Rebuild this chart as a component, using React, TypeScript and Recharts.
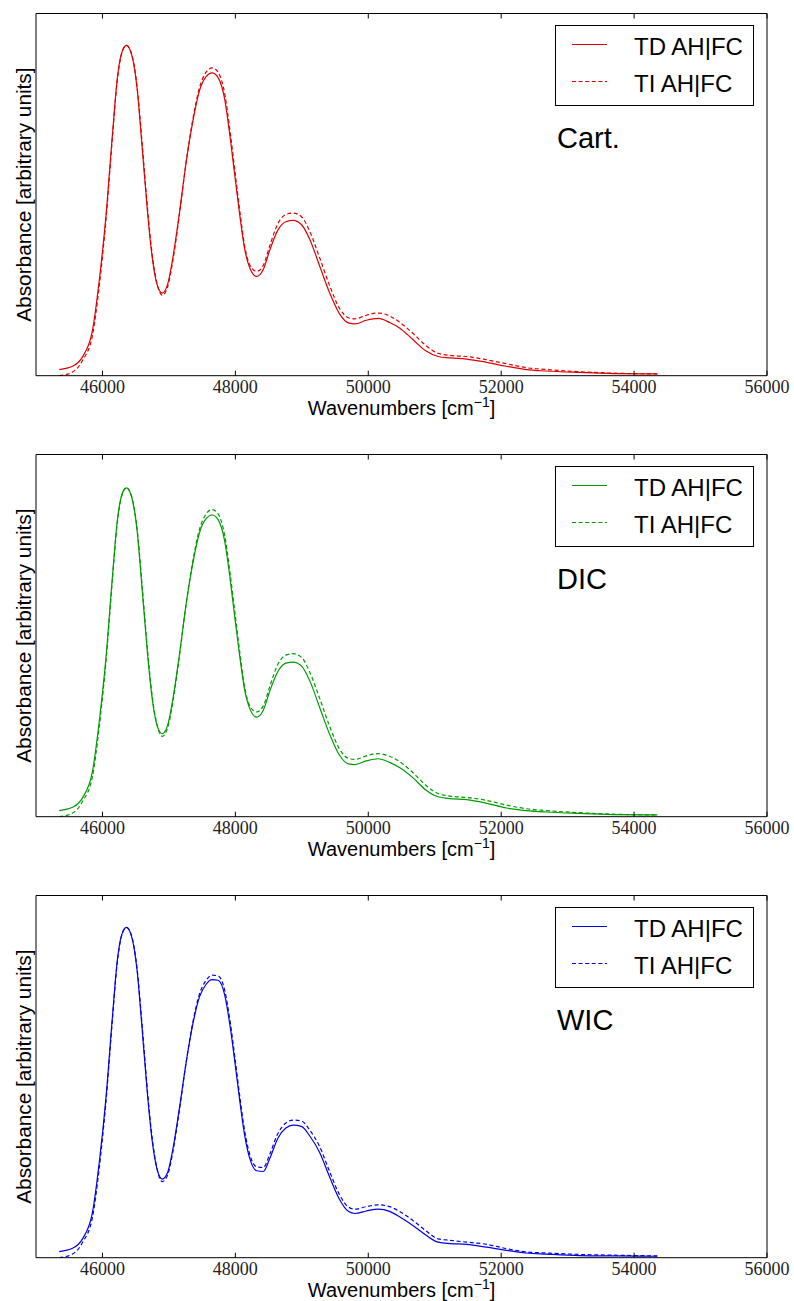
import React from 'react';
import { LineChart, Line, XAxis, YAxis, Legend } from 'recharts';

const WAVENUMBERS = [
  45350, 45550, 45700, 45850, 45950, 46050, 46150, 46220, 46290, 46360,
  46440, 46520, 46600, 46680, 46750, 46820, 46900, 46980, 47060, 47160,
  47260, 47360, 47460, 47560, 47650, 47740, 47840, 47920, 48000, 48070,
  48140, 48220, 48320, 48420, 48520, 48640, 48760, 48870, 49000, 49120,
  49270, 49420, 49570, 49700, 49800, 49970, 50150, 50320, 50470, 50670,
  50870, 51050, 51230, 51480, 51780, 52080, 52380, 52680, 53180, 53680,
  54350,
];

const CART_TD = [
  0.017, 0.026, 0.052, 0.125, 0.26, 0.435, 0.665, 0.815, 0.892, 0.912,
  0.886, 0.795, 0.625, 0.448, 0.325, 0.253, 0.228, 0.252, 0.326, 0.452,
  0.59, 0.702, 0.787, 0.826, 0.836, 0.823, 0.763, 0.66, 0.54, 0.438,
  0.35, 0.296, 0.274, 0.293, 0.348, 0.402, 0.425, 0.429, 0.416, 0.376,
  0.302, 0.228, 0.17, 0.146, 0.143, 0.153, 0.158, 0.147, 0.132, 0.1,
  0.068, 0.053, 0.049, 0.046, 0.037, 0.026, 0.017, 0.013, 0.009, 0.006,
  0.005,
];
const CART_TI = [
  0.0, 0.01, 0.042, 0.112, 0.245, 0.425, 0.658, 0.81, 0.89, 0.912,
  0.888, 0.8, 0.635, 0.458, 0.332, 0.255, 0.222, 0.245, 0.318, 0.447,
  0.59, 0.708, 0.795, 0.838, 0.85, 0.838, 0.778, 0.675, 0.555, 0.45,
  0.358, 0.305, 0.288, 0.305, 0.36, 0.42, 0.445, 0.449, 0.438, 0.398,
  0.325, 0.248, 0.185, 0.16, 0.157, 0.167, 0.173, 0.165, 0.148, 0.117,
  0.083, 0.062, 0.056, 0.053, 0.044, 0.033, 0.022, 0.017, 0.011, 0.007,
  0.005,
];

const DIC_TD = [
  0.017, 0.026, 0.052, 0.125, 0.26, 0.433, 0.662, 0.811, 0.888, 0.908,
  0.882, 0.792, 0.622, 0.446, 0.324, 0.253, 0.229, 0.252, 0.325, 0.45,
  0.588, 0.7, 0.784, 0.823, 0.833, 0.82, 0.76, 0.658, 0.538, 0.437,
  0.35, 0.297, 0.275, 0.294, 0.348, 0.401, 0.424, 0.427, 0.415, 0.375,
  0.301, 0.227, 0.169, 0.146, 0.144, 0.154, 0.16, 0.15, 0.136, 0.108,
  0.073, 0.055, 0.05, 0.047, 0.037, 0.024, 0.017, 0.013, 0.009, 0.006,
  0.005,
];
const DIC_TI = [
  0.0, 0.01, 0.042, 0.112, 0.245, 0.423, 0.655, 0.806, 0.886, 0.908,
  0.884, 0.797, 0.632, 0.456, 0.331, 0.255, 0.222, 0.245, 0.317, 0.446,
  0.588, 0.706, 0.793, 0.836, 0.848, 0.836, 0.776, 0.673, 0.553, 0.449,
  0.358, 0.305, 0.289, 0.306, 0.361, 0.421, 0.446, 0.45, 0.439, 0.399,
  0.326, 0.249, 0.186, 0.161, 0.158, 0.168, 0.174, 0.167, 0.152, 0.122,
  0.086, 0.064, 0.057, 0.053, 0.045, 0.032, 0.022, 0.017, 0.011, 0.007,
  0.005,
];

const WIC_TD = [
  0.017, 0.026, 0.052, 0.125, 0.26, 0.435, 0.665, 0.815, 0.892, 0.912,
  0.886, 0.795, 0.625, 0.445, 0.32, 0.245, 0.217, 0.235, 0.3, 0.415,
  0.54, 0.645, 0.72, 0.755, 0.768, 0.766, 0.725, 0.64, 0.53, 0.428,
  0.338, 0.272, 0.24, 0.238, 0.275, 0.33, 0.358, 0.366, 0.362, 0.336,
  0.29, 0.222, 0.16, 0.128, 0.122, 0.129, 0.134, 0.128, 0.113, 0.089,
  0.062, 0.043, 0.039, 0.037, 0.029, 0.02, 0.013, 0.01, 0.006, 0.005,
  0.004,
];
const WIC_TI = [
  0.0, 0.01, 0.042, 0.112, 0.245, 0.425, 0.658, 0.81, 0.89, 0.912,
  0.888, 0.8, 0.635, 0.455, 0.328, 0.247, 0.21, 0.228, 0.293, 0.41,
  0.54, 0.65, 0.728, 0.766, 0.78, 0.778, 0.738, 0.653, 0.543, 0.44,
  0.35, 0.283, 0.251, 0.249, 0.287, 0.343, 0.372, 0.38, 0.377, 0.352,
  0.306, 0.237, 0.173, 0.14, 0.134, 0.141, 0.146, 0.141, 0.128, 0.103,
  0.074, 0.052, 0.048, 0.043, 0.037, 0.025, 0.016, 0.013, 0.009, 0.007,
  0.005,
];

const X_TICKS = [46000, 48000, 50000, 52000, 54000, 56000];
const X_DOMAIN = [45000, 56000];
const SERIES_NAMES = ['TD AH|FC', 'TI AH|FC'];
const PANEL_LABELS = ['Cart.', 'DIC', 'WIC'];
const PANEL_COLORS = ['#dd0000', '#009a00', '#0000e6'];
const PANEL_SERIES = [
  [CART_TD, CART_TI],
  [DIC_TD, DIC_TI],
  [WIC_TD, WIC_TI],
];

const PANEL_H = 441;
const SANS = "'Liberation Sans', Arial, sans-serif";
const SERIF = "'Liberation Serif', 'DejaVu Serif', serif";

function BottomTick(props: any) {
  const { x, y, payload } = props;
  return (
    <g>
      <line x1={x} x2={x} y1={y} y2={y - 5} stroke="#000" strokeWidth={1} />
      <text x={x} y={y + 17} textAnchor="middle" fontFamily={SERIF} fontSize={18} fill="#222">
        {payload.value}
      </text>
    </g>
  );
}

function TopTick(props: any) {
  const { x, y } = props;
  return <line x1={x} x2={x} y1={y} y2={y + 5} stroke="#000" strokeWidth={1} />;
}

function XLabel(props: any) {
  const vb = props.viewBox || {};
  const cx = vb.x + vb.width / 2;
  const by = vb.y + 39.5;
  return (
    <text x={cx} y={by} textAnchor="middle" fontFamily={SANS} fontSize={20} fill="#000">
      Wavenumbers [cm
      <tspan dy={-8} fontSize={14}>−1</tspan>
      <tspan dy={8}>]</tspan>
    </text>
  );
}

function YLabel(props: any) {
  const vb = props.viewBox || {};
  const cy = vb.y + vb.height / 2;
  const x = 31;
  return (
    <text
      x={x}
      y={cy}
      transform={`rotate(-90, ${x}, ${cy})`}
      textAnchor="middle"
      fontFamily={SANS}
      fontSize={20.8}
      fill="#000"
    >
      Absorbance [arbitrary units]
    </text>
  );
}

function LegendBox({ color }: { color: string }) {
  return (
    <div
      style={{
        width: 199,
        height: 81,
        boxSizing: 'border-box',
        border: '1px solid #000',
        background: '#fff',
      }}
    >
      <svg width={197} height={79} style={{ display: 'block' }}>
        <line x1={16} x2={51} y1={18.5} y2={18.5} stroke={color} strokeWidth={1.2} />
        <text x={78} y={28.5} fontFamily={SANS} fontSize={24} fill="#000">
          {SERIES_NAMES[0]}
        </text>
        <line x1={16} x2={51} y1={55.5} y2={55.5} stroke={color} strokeWidth={1.2} strokeDasharray="4 2.6" />
        <text x={78} y={65.5} fontFamily={SANS} fontSize={24} fill="#000">
          {SERIES_NAMES[1]}
        </text>
      </svg>
    </div>
  );
}

function Panel({ index }: { index: number }) {
  const [td, ti] = PANEL_SERIES[index];
  const color = PANEL_COLORS[index];
  const data = WAVENUMBERS.map((w, i) => ({ w, td: td[i], ti: ti[i] }));
  return (
    <div style={{ position: 'absolute', left: 0, top: index * PANEL_H, width: 794, height: PANEL_H }}>
      <LineChart
        width={794}
        height={PANEL_H}
        data={data}
        margin={{ top: 12.5, right: 26, bottom: 35.3, left: 35 }}
      >
        <XAxis
          xAxisId="bottom"
          dataKey="w"
          type="number"
          domain={X_DOMAIN}
          ticks={X_TICKS}
          allowDataOverflow
          height={30}
          tickSize={0}
          tickMargin={0}
          tickLine={false}
          tick={<BottomTick />}
          axisLine={{ stroke: '#000', strokeWidth: 1 }}
          interval={0}
          label={<XLabel />}
        />
        <XAxis
          xAxisId="top"
          orientation="top"
          dataKey="w"
          type="number"
          domain={X_DOMAIN}
          ticks={X_TICKS}
          allowDataOverflow
          height={1}
          tickSize={0}
          tickMargin={0}
          tickLine={false}
          tick={<TopTick />}
          axisLine={{ stroke: '#000', strokeWidth: 1 }}
          interval={0}
        />
        <YAxis
          yAxisId="left"
          orientation="left"
          type="number"
          domain={[0, 1]}
          allowDataOverflow
          width={1}
          ticks={[0, 1]}
          tick={false}
          tickLine={false}
          axisLine={{ stroke: '#000', strokeWidth: 1 }}
          label={<YLabel />}
        />
        <YAxis
          yAxisId="right"
          orientation="right"
          type="number"
          domain={[0, 1]}
          allowDataOverflow
          width={1}
          ticks={[0, 1]}
          tick={false}
          tickLine={false}
          axisLine={{ stroke: '#000', strokeWidth: 1 }}
        />
        <Legend
          layout="horizontal"
          verticalAlign="middle"
          align="center"
          wrapperStyle={{ left: 555, top: 25, width: 199, height: 81 }}
          content={() => <LegendBox color={color} />}
        />
        <Line
          xAxisId="bottom"
          yAxisId="left"
          type="monotone"
          dataKey="td"
          name={SERIES_NAMES[0]}
          stroke={color}
          strokeWidth={1.2}
          dot={false}
          activeDot={false}
          isAnimationActive={false}
        />
        <Line
          xAxisId="bottom"
          yAxisId="left"
          type="monotone"
          dataKey="ti"
          name={SERIES_NAMES[1]}
          stroke={color}
          strokeWidth={1.2}
          strokeDasharray="4 2.6"
          dot={false}
          activeDot={false}
          isAnimationActive={false}
        />
      </LineChart>
      <svg
        width={794}
        height={PANEL_H}
        style={{ position: 'absolute', left: 0, top: 0, pointerEvents: 'none' }}
      >
        <text x={557} y={148} fontFamily={SANS} fontSize={29} fill="#000">
          {PANEL_LABELS[index]}
        </text>
      </svg>
    </div>
  );
}

export default function App() {
  return (
    <div style={{ position: 'absolute', left: 0, top: 0, width: 794, height: 1301, background: '#fff' }}>
      {PANEL_LABELS.map((_, i) => (
        <Panel key={i} index={i} />
      ))}
    </div>
  );
}
